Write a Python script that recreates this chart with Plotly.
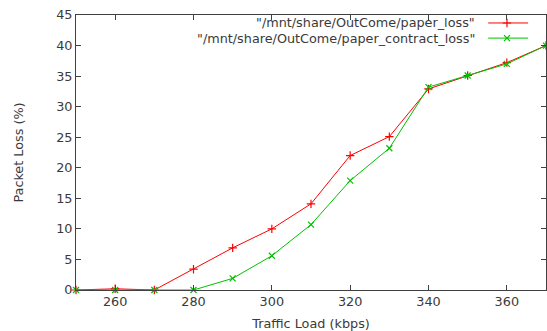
import plotly.graph_objects as go

traffic = [250, 260, 270, 280, 290, 300, 310, 320, 330, 340, 350, 360, 370]
paper_loss = [0, 0.2, 0, 3.4, 6.9, 10.0, 14.1, 22.0, 25.1, 32.9, 35.1, 37.2, 40.0]
paper_contract_loss = [0, 0, 0, 0, 1.9, 5.6, 10.7, 17.9, 23.2, 33.2, 35.1, 37.0, 40.0]
names = ['"/mnt/share/OutCome/paper_loss"', '"/mnt/share/OutCome/paper_contract_loss"']
x_ticks = [260, 280, 300, 320, 340, 360]
y_ticks = [0, 5, 10, 15, 20, 25, 30, 35, 40, 45]

RED = "#ff0000"
GREEN = "#00c000"
FONT = dict(family="DejaVu Sans, Verdana, sans-serif", size=12.8, color="#3a3a3a")

fig = go.Figure()
fig.add_trace(go.Scatter(x=traffic, y=paper_loss, mode="lines+markers", name=names[0],
                         line=dict(color=RED, width=1),
                         marker=dict(symbol="cross-thin", size=6, line=dict(color=RED, width=1.2)),
                         showlegend=False, cliponaxis=False))
fig.add_trace(go.Scatter(x=traffic, y=paper_contract_loss, mode="lines+markers", name=names[1],
                         line=dict(color=GREEN, width=1),
                         marker=dict(symbol="x-thin", size=6, line=dict(color=GREEN, width=1.2)),
                         showlegend=False, cliponaxis=False))

# gnuplot-style key: text right-aligned, sample to the right
key_rows = [0.971, 0.916]
for nm, col, sym, ky in [(names[0], RED, "cross-thin", key_rows[0]),
                         (names[1], GREEN, "x-thin", key_rows[1])]:
    fig.add_annotation(x=0.853, y=ky, xref="paper", yref="paper", text=nm, showarrow=False,
                       xanchor="right", yanchor="middle", font=FONT)
    fig.add_trace(go.Scatter(x=[0.877, 0.962], y=[ky, ky], xaxis="x2", yaxis="y2",
                             mode="lines", line=dict(color=col, width=1), showlegend=False,
                             hoverinfo="skip"))
    fig.add_trace(go.Scatter(x=[0.917], y=[ky], xaxis="x2", yaxis="y2",
                             mode="markers", marker=dict(symbol=sym, size=6, line=dict(color=col, width=1.2)),
                             showlegend=False, hoverinfo="skip"))

axis_common = dict(showgrid=False, zeroline=False, showline=True, linecolor="#404040", linewidth=1,
                   mirror="ticks", ticks="inside", ticklen=5, tickcolor="#404040", tickfont=FONT,
                   automargin=False)

fig.update_layout(
    width=547, height=331,
    margin=dict(l=76, r=1, t=15, b=41),
    paper_bgcolor="white", plot_bgcolor="white",
    showlegend=False,
    xaxis=dict(range=[250, 370], tickvals=x_ticks, title=dict(text="Traffic Load (kbps)", font=FONT, standoff=10),
               **axis_common),
    yaxis=dict(range=[0, 45], tickvals=y_ticks, title=dict(text="Packet Loss (%)", font=FONT, standoff=29),
               **axis_common),
    xaxis2=dict(range=[0, 1], overlaying="x", visible=False, fixedrange=True, automargin=False),
    yaxis2=dict(range=[0, 1], overlaying="y", visible=False, fixedrange=True, automargin=False),
)

fig.write_html("out.html", config={"displayModeBar": False},
               post_script="document.body.style.margin='0';")
